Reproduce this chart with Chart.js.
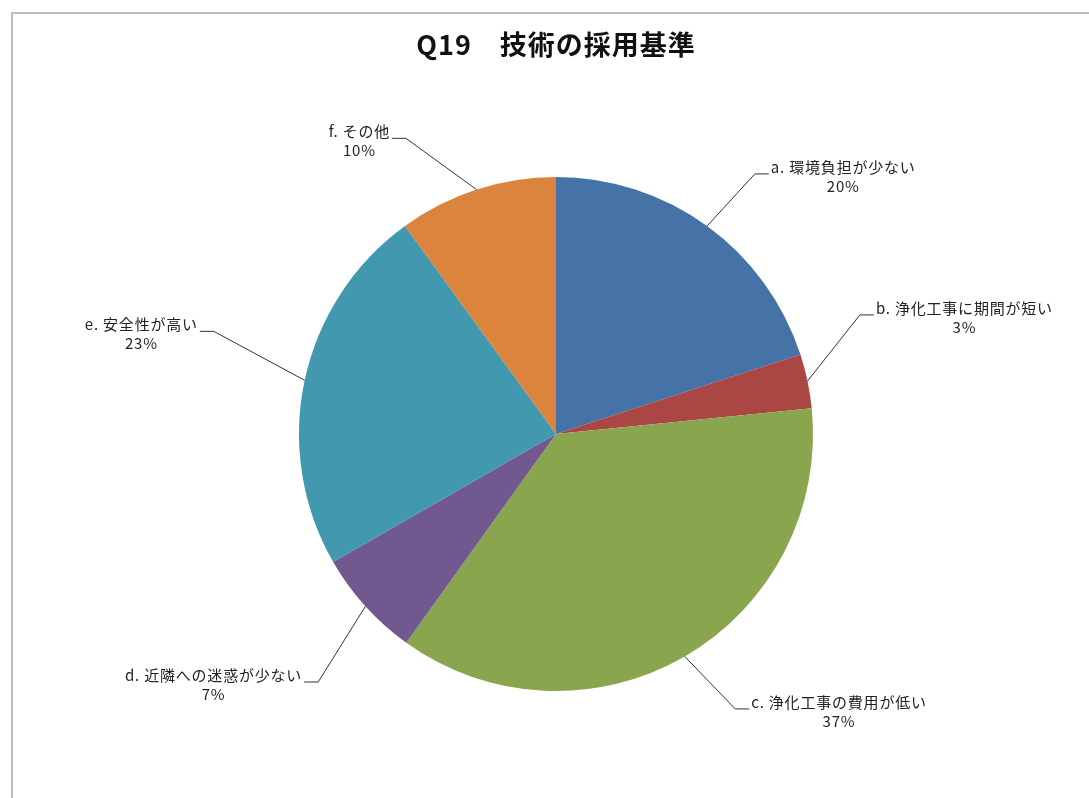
<!DOCTYPE html>
<html>
<head>
<meta charset="utf-8">
<script src="https://cdn.jsdelivr.net/npm/chart.js@4"></script>
<style>
  html, body { margin: 0; padding: 0; background: #fff; }
  #wrap { width: 1089px; height: 798px; position: relative; }
</style>
</head>
<body>
<div id="wrap"><canvas id="c" width="1089" height="798"></canvas></div>
<script>
// ---- data ----
const titleText = "Q19\u3000技術の採用基準";
const categories = [
  "a. 環境負担が少ない",
  "b. 浄化工事に期間が短い",
  "c. 浄化工事の費用が低い",
  "d. 近隣への迷惑が少ない",
  "e. 安全性が高い",
  "f. その他"
];
const values = [20.0, 3.4, 36.5, 6.8, 23.3, 10.0];
const colors = ["#4572A7", "#AA4643", "#89A54E", "#71588F", "#4198AF", "#DB843D"];

// label elbow placement relative to pie (degrees clockwise from top, radius factor)
const labelAngles = [37.4, 68.6, 146.9, 223.8, 286.7, 333.1];
const labelRadii = [1.274, 1.27, 1.277, 1.337, 1.39, 1.29];

const labelFont = '15px "Noto Sans CJK JP", "Noto Sans", sans-serif';

const decor = {
  id: 'decor',
  beforeDraw(chart) {
    const ctx = chart.ctx;
    ctx.save();
    ctx.fillStyle = '#fff';
    ctx.fillRect(0, 0, chart.width, chart.height);
    ctx.strokeStyle = '#bdbdbd';
    ctx.lineWidth = 2;
    ctx.beginPath();
    ctx.moveTo(12, chart.height);
    ctx.lineTo(12, 13);
    ctx.lineTo(chart.width, 13);
    ctx.stroke();
    // title
    ctx.fillStyle = '#111';
    ctx.font = 'bold 27px "Noto Sans CJK JP", "Noto Sans", sans-serif';
    ctx.letterSpacing = '1px';
    ctx.textAlign = 'center';
    ctx.textBaseline = 'middle';
    ctx.fillText(titleText, 556, 45);
    ctx.restore();
  },
  afterDatasetsDraw(chart) {
    const ctx = chart.ctx;
    const meta = chart.getDatasetMeta(0);
    const total = values.reduce((s, v) => s + v, 0);
    ctx.save();
    ctx.font = labelFont;
    ctx.letterSpacing = '0.8px';
    ctx.textBaseline = 'middle';
    ctx.textAlign = 'center';
    meta.data.forEach((arc, i) => {
      const p = arc.getProps(['x', 'y', 'startAngle', 'endAngle', 'outerRadius'], true);
      const mid = (p.startAngle + p.endAngle) / 2;
      const R = p.outerRadius;
      const sx = p.x + Math.cos(mid) * R;
      const sy = p.y + Math.sin(mid) * R;
      const a = (labelAngles[i] - 90) * Math.PI / 180;
      const ex = p.x + Math.cos(a) * R * labelRadii[i];
      const ey = p.y + Math.sin(a) * R * labelRadii[i];
      const side = ex >= p.x ? 1 : -1;
      const hx = ex + side * 14;
      ctx.strokeStyle = '#333';
      ctx.lineWidth = 1;
      ctx.beginPath();
      ctx.moveTo(sx, sy);
      ctx.lineTo(ex, ey);
      ctx.lineTo(hx, ey);
      ctx.stroke();
      const line1 = categories[i];
      const line2 = Math.round(values[i] / total * 100) + '%';
      const w = Math.max(ctx.measureText(line1).width, ctx.measureText(line2).width);
      const cx = side > 0 ? hx + 2 + w / 2 : hx - 2 - w / 2;
      ctx.fillStyle = '#222';
      ctx.fillText(line1, cx, ey - 7);
      ctx.fillText(line2, cx, ey + 12);
    });
    ctx.restore();
  }
};

new Chart(document.getElementById('c'), {
  type: 'pie',
  data: {
    labels: categories,
    datasets: [{
      data: values,
      backgroundColor: colors,
      borderWidth: 0,
      hoverOffset: 0,
      offset: 0
    }]
  },
  options: {
    responsive: false,
    animation: false,
    layout: { padding: { left: 299, right: 276, top: 177, bottom: 107 } },
    plugins: {
      legend: { display: false },
      tooltip: { enabled: false },
      title: { display: false }
    }
  },
  plugins: [decor]
});
</script>
</body>
</html>
